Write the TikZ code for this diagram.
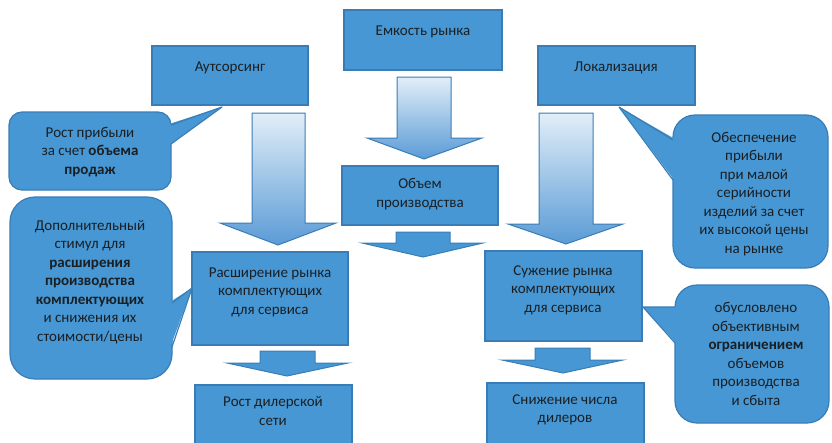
\documentclass[tikz,border=0pt]{standalone}
\usepackage{fontspec}
\setmainfont{Carlito}
\definecolor{boxc}{HTML}{4697D3}
\definecolor{bordc}{HTML}{3A7DB6}
\definecolor{txtc}{HTML}{1A1F24}
\definecolor{arrtop}{HTML}{E2EEF8}
\definecolor{arrbot}{HTML}{5A9BD6}
\begin{document}
\begin{tikzpicture}[x=1pt,y=-1pt,
  box/.style={draw=bordc, fill=boxc, line width=1.2pt, rectangle, inner sep=0pt},
  callbox/.style={draw=bordc, fill=boxc, line width=1.2pt, rectangle, inner sep=0pt, rounded corners=#1},
  txt/.style={align=center, text=txtc, font=\fontsize{15}{18.5}\selectfont, inner sep=0pt},
  bigarrow/.style={draw=bordc, line width=1pt, top color=arrtop, bottom color=arrbot},
  smallarrow/.style={draw=bordc, fill=boxc, line width=1pt},
  pointerline/.style={draw=bordc, line width=1.2pt, line join=round}]
\useasboundingbox (0,0) rectangle (832,442);
\clip (0,0) rectangle (832,442);

% rectangular boxes
\node[box, minimum width=158pt, minimum height=60pt] (emk) at (423,40) {};
\node[box, minimum width=156pt, minimum height=59pt] (aut) at (230,75.5) {};
\node[box, minimum width=157pt, minimum height=59pt] (lok) at (616.5,75.5) {};
\node[box, minimum width=156pt, minimum height=59pt] (obj) at (420,195.5) {};
\node[box, minimum width=156pt, minimum height=93pt] (ras) at (270,298.5) {};
\node[box, minimum width=157pt, minimum height=90pt] (suz) at (563.5,296) {};
\node[box, minimum width=157pt, minimum height=65pt] (rost) at (273.5,417.5) {};
\node[box, minimum width=157pt, minimum height=67pt] (sniz) at (565.5,416.5) {};

% callouts
\node[callbox=13pt, minimum width=162pt, minimum height=78pt] (c1) at (90,151) {};
\node[callbox=25pt, minimum width=162pt, minimum height=182pt] (c2) at (91,288) {};
\node[callbox=22pt, minimum width=155pt, minimum height=153pt] (c3) at (750.5,191.5) {};
\node[callbox=22pt, minimum width=154pt, minimum height=138pt] (c4) at (752,354) {};

% pointers
\coordinate (p1) at (222,107);
\coordinate (p2) at (192,288);
\coordinate (p3) at (619,107);
\coordinate (p4) at (643,307);
\fill[boxc] (p1) -- (169,124) -- (169,145) -- cycle;
\draw[pointerline] (171,125) -- (p1) -- (171,144);
\fill[boxc] (p2) -- (170,302) -- (170,348) -- cycle;
\draw[pointerline] (172,303) -- (p2) -- (172,347);
\fill[boxc] (p3) -- (675,139) -- (675,181) -- cycle;
\draw[pointerline] (673,140) -- (p3) -- (673,180);
\fill[boxc] (p4) -- (677,307) -- (677,344) -- cycle;
\draw[pointerline] (675,307) -- (p4) -- (675,343);

% big gradient arrows
\draw[bigarrow] (252,113) -- (305,113) -- (305,223) -- (336,223) -- (278,245) -- (220,223) -- (252,223) -- cycle;
\draw[bigarrow] (397,77) -- (451,77) -- (451,138) -- (482,138) -- (424,159) -- (367,138) -- (397,138) -- cycle;
\draw[bigarrow] (539,113) -- (593,113) -- (593,224) -- (623,224) -- (566,244) -- (508,224) -- (539,224) -- cycle;

% small arrows
\draw[smallarrow] (396,232) -- (450,232) -- (450,243) -- (483,243) -- (423,257) -- (362,243) -- (396,243) -- cycle;
\draw[smallarrow] (260,351) -- (315,351) -- (315,363) -- (348,363) -- (287,376) -- (227,363) -- (260,363) -- cycle;
\draw[smallarrow] (535,348) -- (590,348) -- (590,360) -- (623,360) -- (563,373) -- (502,360) -- (535,360) -- cycle;

% texts
\node[txt] (temk) at (423,32) {Емкость рынка};
\node[txt] (taut) at (230,68) {Аутсорсинг};
\node[txt] (tlok) at (616,68) {Локализация};
\node[txt] (tobj) at (420,194) {Объем\\производства};
\node[txt] (tras) at (270,292) {Расширение рынка\\комплектующих\\для сервиса};
\node[txt] (tsuz) at (563,290) {Сужение рынка\\комплектующих\\для сервиса};
\node[txt] (trost) at (273,411) {Рост дилерской\\сети};
\node[txt] (tsniz) at (565,410) {Снижение числа\\дилеров};
\node[txt] (tc1) at (90,152) {Рост прибыли\\за счет \textbf{объема}\\\textbf{продаж}};
\node[txt] (tc2) at (90,282) {Дополнительный\\стимул для\\\textbf{расширения}\\\textbf{производства}\\\textbf{комплектующих}\\и снижения их\\стоимости/цены};
\node[txt] (tc3) at (754,194) {Обеспечение\\прибыли\\при малой\\серийности\\изделий за счет\\их высокой цены\\на рынке};
\node[txt] (tc4) at (756,354) {обусловлено\\объективным\\\textbf{ограничением}\\объемов\\производства\\и сбыта};
\end{tikzpicture}
\end{document}
